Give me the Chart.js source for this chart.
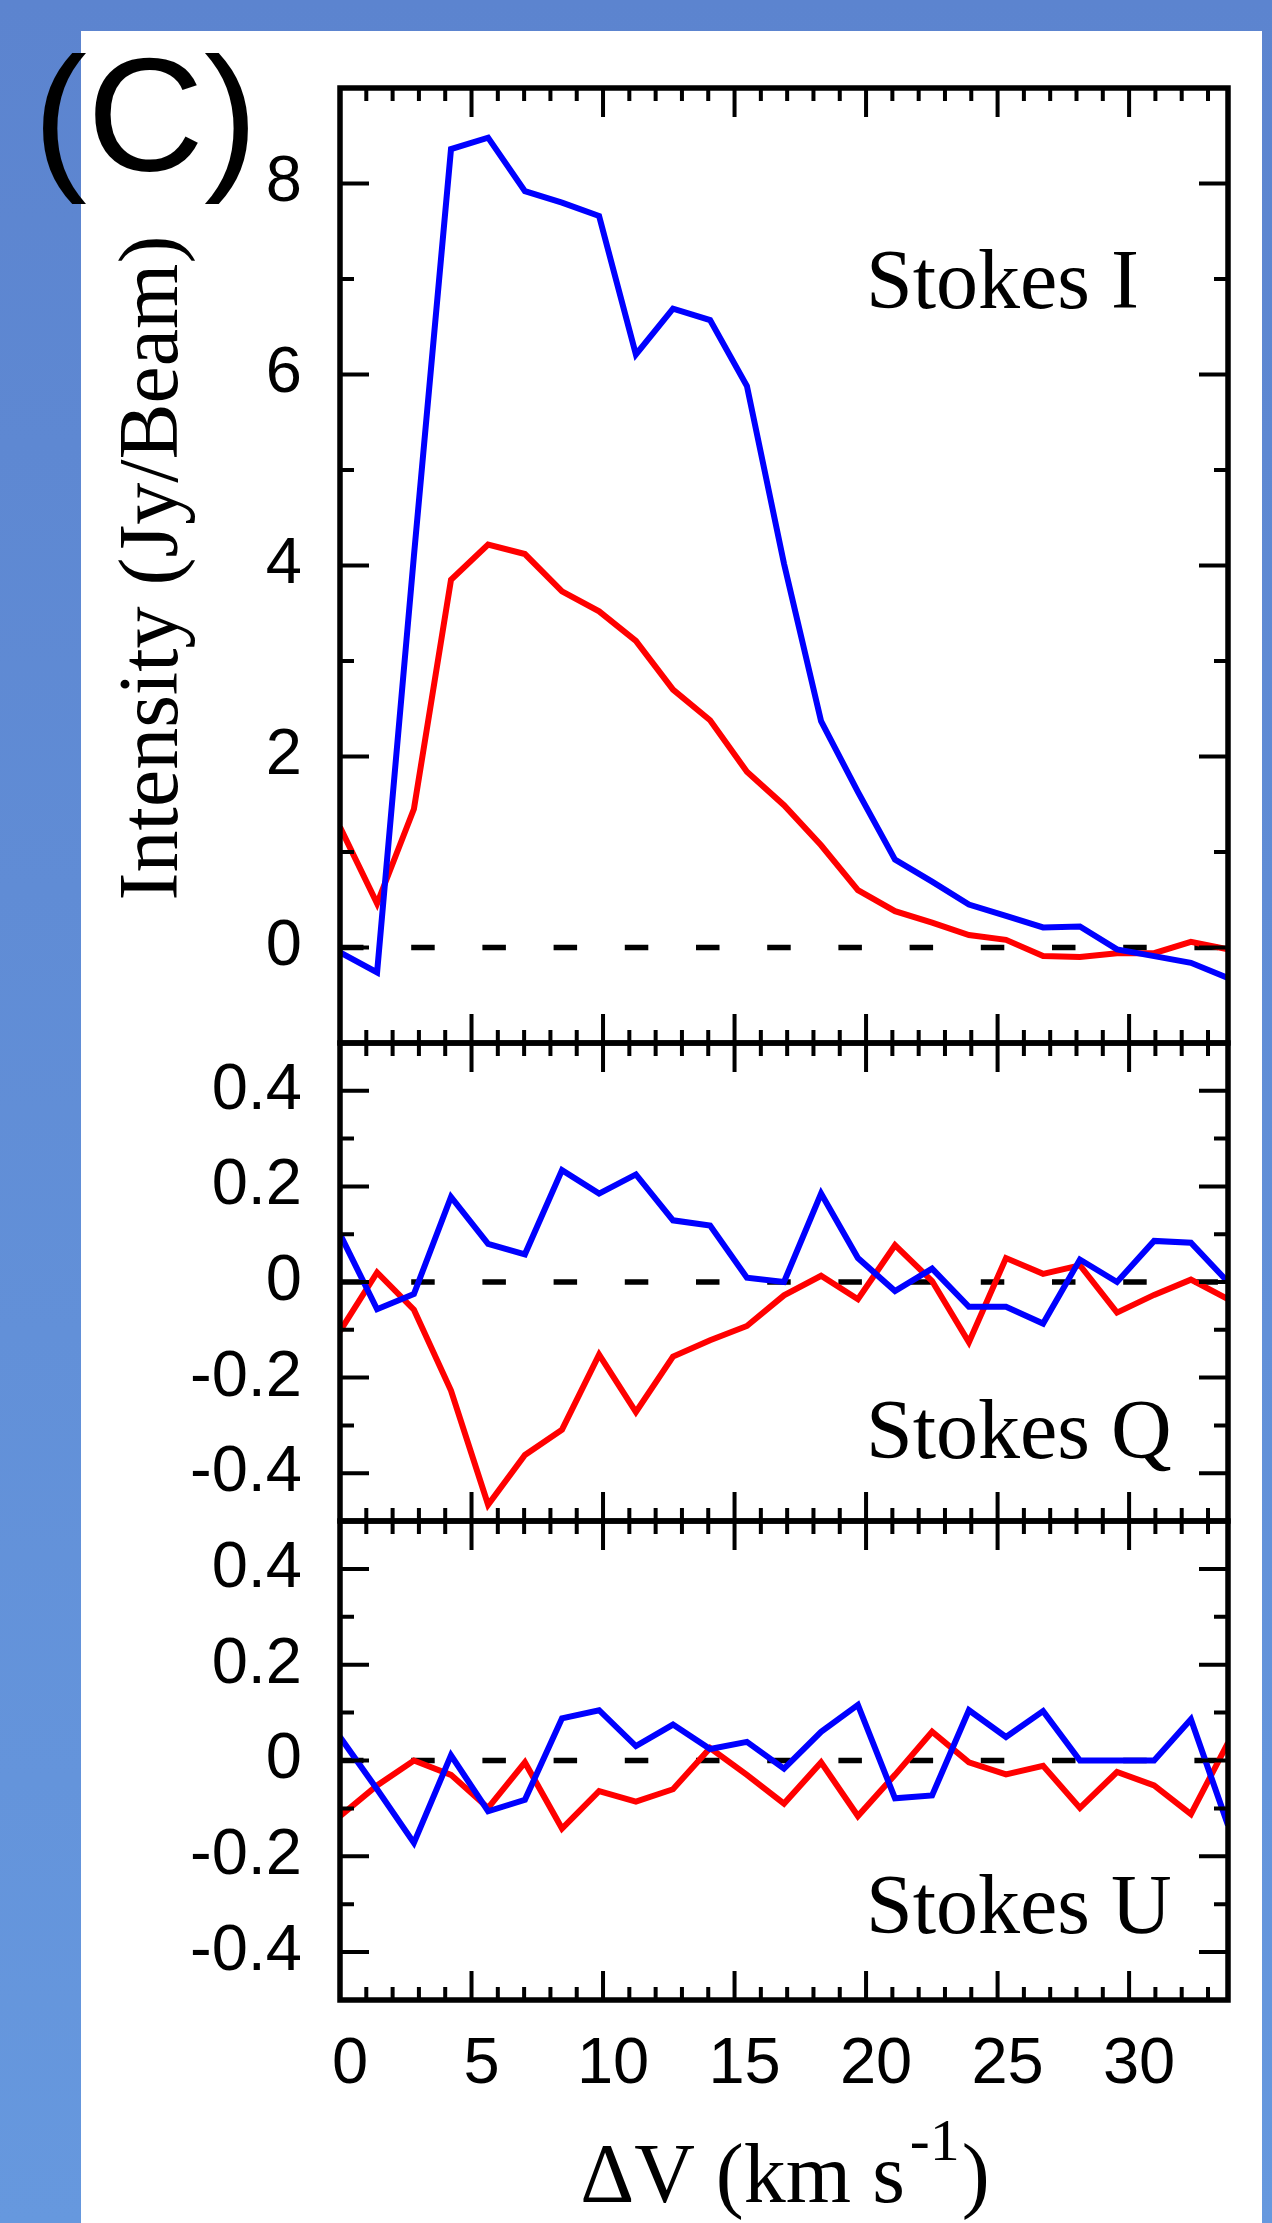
<!DOCTYPE html>
<html>
<head>
<meta charset="utf-8">
<script src="https://cdn.jsdelivr.net/npm/chart.js@4.4.0/dist/chart.umd.min.js"></script>
<style>
    html, body { margin: 0; padding: 0; }
    #page {
        position: relative;
        width: 1272px;
        height: 2223px;
        overflow: hidden;
        background: linear-gradient(#5c84cf, #6698de);
    }
    #sheet {
        position: absolute;
        left: 81px;
        top: 31px;
        width: 1181px;
        height: 2192px;
        background: #ffffff;
    }
    canvas.panel { position: absolute; left: 0; top: 0; width: 1272px; height: 2223px; }
</style>
</head>
<body>
<div id="page">
    <div id="sheet"></div>
    <canvas id="panelI" class="panel" width="1272" height="2223"></canvas>
    <canvas id="panelQ" class="panel" width="1272" height="2223"></canvas>
    <canvas id="panelU" class="panel" width="1272" height="2223"></canvas>
</div>
<script>
// channel velocities (km/s)
const velocity = [0, 1.41, 2.81, 4.22, 5.63, 7.03, 8.44, 9.85, 11.25, 12.66, 14.07, 15.47, 16.88,
                  18.29, 19.69, 21.10, 22.51, 23.91, 25.32, 26.73, 28.13, 29.54, 30.95, 32.35, 33.76];

// Stokes I (Jy/Beam)
const stokesIBlue = [-0.05, -0.26, 4.10, 8.36, 8.48, 7.92, 7.80, 7.66, 6.21, 6.69, 6.57, 5.88, 4.02,
                     2.37, 1.63, 0.92, 0.69, 0.45, 0.33, 0.21, 0.22, -0.02, -0.09, -0.16, -0.32];
const stokesIRed  = [1.26, 0.46, 1.45, 3.85, 4.22, 4.12, 3.73, 3.52, 3.21, 2.70, 2.38, 1.84, 1.49,
                     1.07, 0.60, 0.38, 0.26, 0.13, 0.08, -0.09, -0.10, -0.06, -0.06, 0.06, -0.02];

// Stokes Q
const stokesQBlue = [0.100, -0.057, -0.025, 0.178, 0.080, 0.058, 0.234, 0.185, 0.225, 0.129, 0.118, 0.009, 0.000,
                     0.185, 0.050, -0.019, 0.028, -0.052, -0.052, -0.087, 0.047, 0.000, 0.086, 0.082, 0.000];
const stokesQRed  = [-0.103, 0.020, -0.058, -0.227, -0.466, -0.362, -0.309, -0.152, -0.272, -0.156, -0.122, -0.092, -0.028,
                     0.013, -0.036, 0.077, 0.002, -0.126, 0.050, 0.017, 0.035, -0.064, -0.027, 0.005, -0.036];

// Stokes U
const stokesUBlue = [0.049, -0.060, -0.172, 0.011, -0.106, -0.082, 0.088, 0.105, 0.030, 0.075, 0.024, 0.039, -0.017,
                     0.060, 0.116, -0.079, -0.073, 0.105, 0.049, 0.103, 0.000, 0.000, 0.000, 0.086, -0.135];
const stokesURed  = [-0.116, -0.052, 0.000, -0.030, -0.099, -0.004, -0.142, -0.064, -0.086, -0.060, 0.026, -0.030, -0.090,
                     -0.004, -0.116, -0.030, 0.060, -0.004, -0.029, -0.011, -0.099, -0.024, -0.052, -0.112, 0.037];

// tick values
const xTicks       = [0, 5, 10, 15, 20, 25, 30];
const xMinorTicks  = [1, 2, 3, 4, 6, 7, 8, 9, 11, 12, 13, 14, 16, 17, 18, 19, 21, 22, 23, 24, 26, 27, 28, 29, 31, 32, 33];
const yTicksI      = [0, 2, 4, 6, 8];
const yMinorTicksI = [1, 3, 5, 7];
const yTicksQU      = [-0.4, -0.2, 0, 0.2, 0.4];
const yMinorTicksQU = [-0.3, -0.1, 0.1, 0.3];

const PAGE_W = 1272, PAGE_H = 2223;
const PLOT_LEFT = 340, PLOT_RIGHT = 1228;
const X_AXIS_H = 150;
const TICK_FONT = {family: "'Liberation Sans', Arial, sans-serif", size: 65};
const SERIF = "'Liberation Serif', 'Times New Roman', serif";

// frame, inward ticks, dashed zero line and texts
const framePlugin = {
    id: 'panelFrame',
    beforeDatasetsDraw(chart) {
        const {ctx, chartArea: a, scales: {y}} = chart;
        const y0 = y.getPixelForValue(0);
        ctx.save();
        ctx.strokeStyle = '#000';
        ctx.lineWidth = 5.5;
        ctx.setLineDash([23.5, 47.7]);
        ctx.beginPath();
        ctx.moveTo(a.left, y0);
        ctx.lineTo(a.right, y0);
        ctx.stroke();
        ctx.restore();
    },
    afterDatasetsDraw(chart, args, opts) {
        const {ctx, chartArea: a, scales: {x, y}} = chart;
        ctx.save();
        ctx.strokeStyle = '#000';
        ctx.lineWidth = 4;
        ctx.beginPath();
        const xt = (v, len) => {
            const px = x.getPixelForValue(v);
            ctx.moveTo(px, a.bottom); ctx.lineTo(px, a.bottom - len);
            ctx.moveTo(px, a.top);    ctx.lineTo(px, a.top + len);
        };
        const yt = (v, len) => {
            const py = y.getPixelForValue(v);
            ctx.moveTo(a.left, py);  ctx.lineTo(a.left + len, py);
            ctx.moveTo(a.right, py); ctx.lineTo(a.right - len, py);
        };
        xTicks.forEach(v => xt(v, 29));
        xMinorTicks.forEach(v => xt(v, 13));
        opts.yMajor.forEach(v => yt(v, 29));
        opts.yMinor.forEach(v => yt(v, 14));
        ctx.stroke();

        ctx.lineWidth = 5.5;
        ctx.strokeRect(a.left, a.top, a.right - a.left, a.bottom - a.top);

        ctx.fillStyle = '#000';
        ctx.font = '84px ' + SERIF;
        ctx.textAlign = 'left';
        ctx.textBaseline = 'alphabetic';
        ctx.fillText(opts.label, 866, opts.labelY);
        ctx.restore();
    },
    afterDraw(chart, args, opts) {
        const {ctx} = chart;
        ctx.save();
        ctx.fillStyle = '#000';
        if (opts.panelTag) {
            ctx.font = "162px 'Liberation Sans', Arial, sans-serif";
            ctx.textBaseline = 'alphabetic';
            ctx.fillText('(C)', 33, 170);

            ctx.translate(177, 568);
            ctx.rotate(-Math.PI / 2);
            ctx.font = '84px ' + SERIF;
            ctx.textAlign = 'center';
            ctx.fillText('Intensity (Jy/Beam)', 0, 0);
        }
        if (opts.xTitle) {
            const big = '84px ' + SERIF, small = '60px ' + SERIF;
            ctx.font = big;
            const w1 = ctx.measureText('\u0394V (km s').width;
            const w3 = ctx.measureText(')').width;
            ctx.font = small;
            const w2 = ctx.measureText('-1').width;
            let px = 785 - (w1 + 5 + w2 + 2 + w3) / 2;
            const base = 2202;
            ctx.font = big;
            ctx.fillText('\u0394V (km s', px, base);
            px += w1 + 5;
            ctx.font = small;
            ctx.fillText('-1', px, base - 42);
            px += w2 + 2;
            ctx.font = big;
            ctx.fillText(')', px, base);
        }
        ctx.restore();
    }
};

function makePanel(canvasId, p) {
    const toPoints = vals => velocity.map((v, i) => ({x: v, y: vals[i]}));
    return new Chart(document.getElementById(canvasId), {
        type: 'line',
        data: {
            datasets: [
                {data: toPoints(p.blue), borderColor: '#0000ff', borderWidth: 6, pointRadius: 0, tension: 0, fill: false},
                {data: toPoints(p.red),  borderColor: '#ff0000', borderWidth: 6, pointRadius: 0, tension: 0, fill: false}
            ]
        },
        options: {
            responsive: false,
            animation: false,
            devicePixelRatio: 1,
            layout: {
                padding: {left: 0, right: PAGE_W - PLOT_RIGHT, top: p.top, bottom: PAGE_H - p.bottom - X_AXIS_H}
            },
            plugins: {
                legend: {display: false},
                tooltip: {enabled: false},
                panelFrame: {
                    yMajor: p.yTicks, yMinor: p.yMinor, label: p.label, labelY: p.labelY,
                    panelTag: p.panelTag, xTitle: p.showX
                }
            },
            scales: {
                x: {
                    type: 'linear',
                    min: 0,
                    max: 33.76,
                    afterBuildTicks: s => { s.ticks = xTicks.map(v => ({value: v})); },
                    afterFit: s => { s.height = X_AXIS_H; },
                    grid: {display: false, drawTicks: false},
                    border: {display: false},
                    ticks: {
                        display: p.showX, font: TICK_FONT, color: '#000', padding: 26,
                        labelOffset: 10, maxRotation: 0, autoSkip: false
                    }
                },
                y: {
                    type: 'linear',
                    min: p.min,
                    max: p.max,
                    afterBuildTicks: s => { s.ticks = p.yTicks.map(v => ({value: v})); },
                    afterFit: s => { s.width = PLOT_LEFT; },
                    grid: {display: false, drawTicks: false},
                    border: {display: false},
                    ticks: {
                        font: TICK_FONT, color: '#000', padding: 38, autoSkip: false,
                        callback: v => (v === 0 ? '0' : (Number.isInteger(v) ? String(v) : v.toFixed(1)))
                    }
                }
            }
        },
        plugins: [framePlugin]
    });
}

makePanel('panelI', {
    blue: stokesIBlue, red: stokesIRed, min: -1, max: 9, top: 88, bottom: 1043,
    yTicks: yTicksI, yMinor: yMinorTicksI, label: 'Stokes I', labelY: 308, panelTag: true, showX: false
});
makePanel('panelQ', {
    blue: stokesQBlue, red: stokesQRed, min: -0.5, max: 0.5, top: 1043, bottom: 1521,
    yTicks: yTicksQU, yMinor: yMinorTicksQU, label: 'Stokes Q', labelY: 1458, panelTag: false, showX: false
});
makePanel('panelU', {
    blue: stokesUBlue, red: stokesURed, min: -0.5, max: 0.5, top: 1521, bottom: 2000,
    yTicks: yTicksQU, yMinor: yMinorTicksQU, label: 'Stokes U', labelY: 1933, panelTag: false, showX: true
});
</script>
</body>
</html>
